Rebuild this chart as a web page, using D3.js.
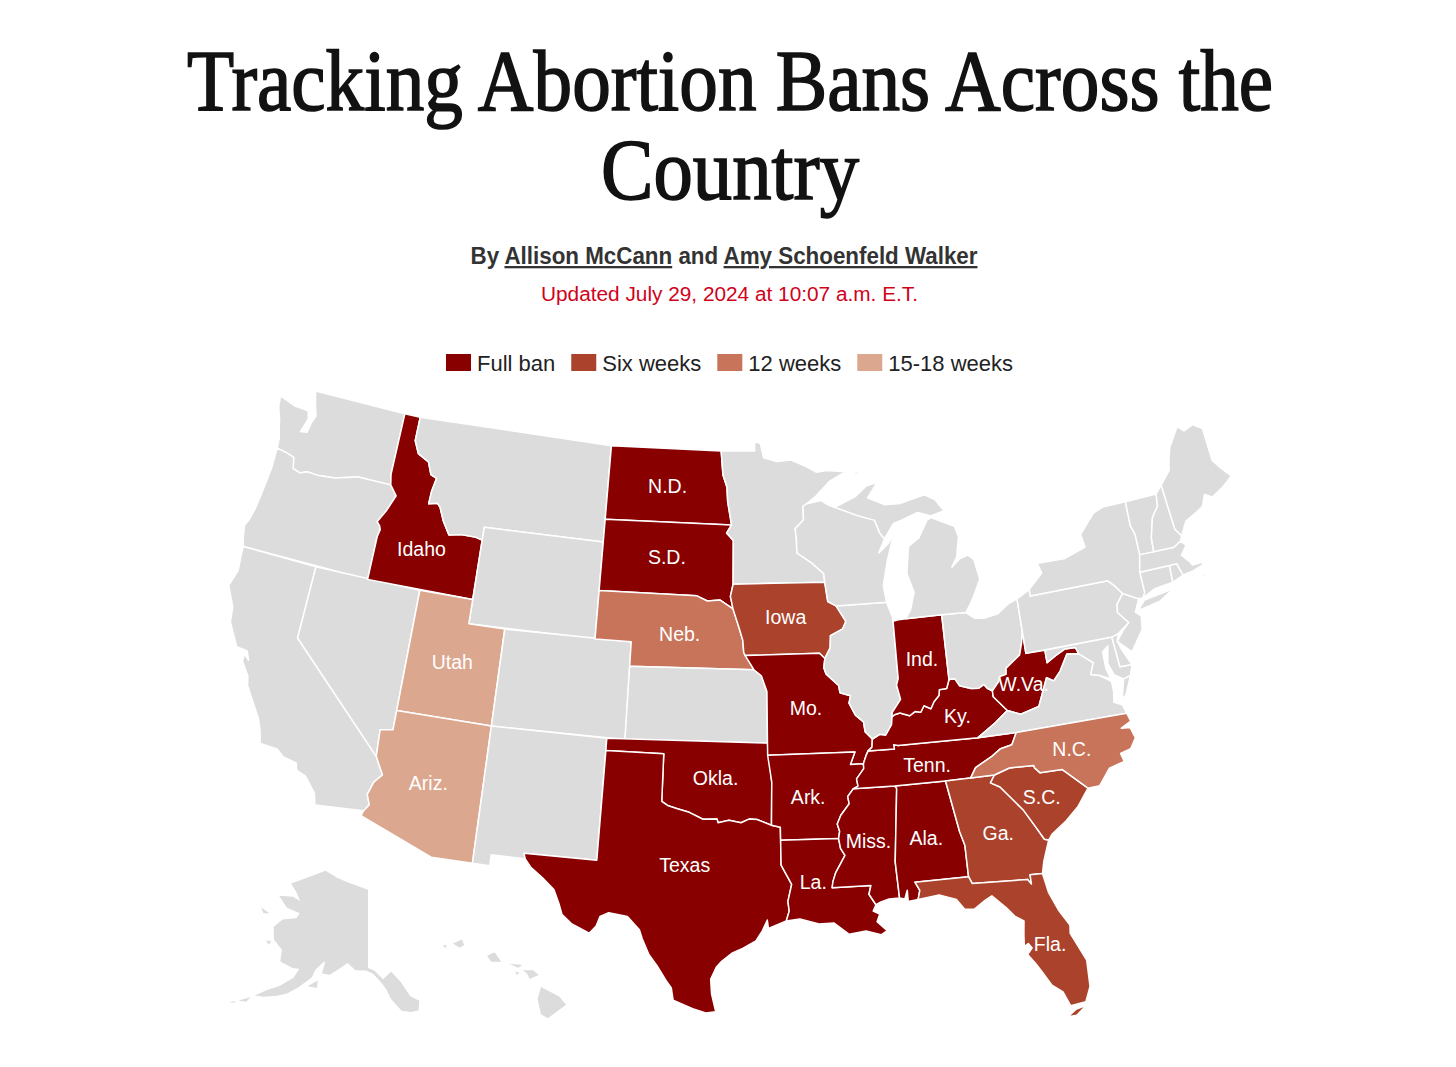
<![CDATA[<!DOCTYPE html>
<html>
<head>
<meta charset="utf-8">
<title>Tracking Abortion Bans Across the Country</title>
<script src="https://cdn.jsdelivr.net/npm/d3@7"></script>
<style type="text/css">
	html, body { margin: 0; background: #fff; overflow: hidden; }
	svg { display: block; }
	text { font-family: "Liberation Sans", sans-serif; }
	.title { font-family: "Liberation Serif", serif; font-size: 86px; fill: #121212; stroke: #121212; stroke-width: 1.6px; text-anchor: middle; }
	.state { stroke: #fff; stroke-width: 1.5px; stroke-linejoin: round; }
	.inset { stroke: none; }
	.label { fill: #fff; font-size: 19.5px; text-anchor: middle; dominant-baseline: central; }
</style>
</head>
<body><svg id="svg" width="1456" height="1067"></svg><script type="text/javascript">
var titleLines = ["Tracking Abortion Bans Across the", "Country"];
var updated = "Updated July 29, 2024 at 10:07 a.m. E.T.";
var categories = ["Full ban", "Six weeks", "12 weeks", "15-18 weeks"];
var categoryColors = ["#880000", "#ab432c", "#c8745a", "#dca78f"];
var noBanColor = "#dcdcdc";

// rivers shared by two states, flat lon,lat lists
var missIA = [-90.65,42.5,-90.15,41.85,-90.35,41.55,-91.05,41.3,-91.1,40.8,-91.42,40.38];
var missIL = [-91.42,40.38,-91.5,40,-91.4,39.75,-90.75,39.25,-90.7,38.95,-90.15,38.8,-90.25,38.5,-89.95,38,-89.55,37.7,-89.5,37.3,-89.15,36.98];
var missKY = [-89.15,36.98,-89.2,36.65,-89.42,36.5];
var missTN = [-89.42,36.5,-89.55,36.3,-89.7,36];
var missAT = [-89.7,36,-89.7,35.8,-90.1,35.4,-90.05,35.1,-90.3,35];
var missAM = [-90.3,35,-90.6,34.7,-90.55,34.4,-91,33.95,-91.2,33.6,-91.1,33.3,-91.17,33];
var missLM = [-91.17,33,-91.1,32.6,-90.9,32.3,-91.15,31.95,-91.4,31.6,-91.55,31.25,-91.6,31];
var ohioA = [-89.15,36.98,-88.75,37.15,-88.45,37.1,-88.1,37.5,-88.05,37.8];
var ohioB = [-88.05,37.8,-87.9,37.9,-87.6,37.95,-87.1,37.8,-86.8,37.95,-86.5,37.9,-86.3,38.15,-85.95,38,-85.75,38.27,-85.45,38.5,-85.4,38.73,-85,38.75,-84.82,39.1];
var ohioC = [-84.82,39.1,-84.5,39.1,-84.3,38.8,-83.7,38.63,-83.3,38.6,-83,38.72,-82.85,38.55,-82.6,38.42];
var ohioD = [-82.6,38.42,-82.2,38.75,-82.1,38.95,-81.75,39,-81.7,39.25,-80.87,39.7,-80.65,40.2,-80.52,40.64];
var redRiver = [-94.48,33.64,-95.2,33.88,-95.6,33.9,-96,33.75,-96.6,33.85,-97.15,33.75,-97.2,33.9,-97.9,33.88,-98.6,34.15,-99.2,34.28,-99.7,34.4,-100,34.56];

function rev(flat) {
	var out = [];
	for (var i = flat.length - 2; i >= 0; i -= 2) out.push(flat[i], flat[i + 1]);
	return out;
}

// outlines are lon,lat pairs, one flat list per ring
var WA = [[-124.73,48.38,-123.7,48.15,-122.85,48.12,-122.7,47.8,-122.95,47.2,-122.55,47.25,-122.45,47.7,-122.3,48,-122.5,48.4,-122.75,49,-117.03,49,-117.04,46.42,-116.92,45.995,-118.98,46,-119.3,45.93,-120.2,45.73,-121.2,45.65,-121.9,45.68,-122.3,45.55,-122.75,45.65,-122.9,46.1,-123.4,46.2,-124,46.27,-124.05,46.7,-124.2,47,-124.35,47.4,-124.65,47.95]];
var OR = [[-124,46.27,-123.4,46.2,-122.9,46.1,-122.75,45.65,-122.3,45.55,-121.9,45.68,-121.2,45.65,-120.2,45.73,-119.3,45.93,-118.98,46,-116.92,45.995,-116.47,45.6,-116.85,44.9,-117.22,44.4,-117.03,44.25,-116.95,44.1,-117.03,43.8,-117.03,42,-124.21,42,-124.35,42.3,-124.5,42.84,-124.35,43.1,-124.2,43.6,-124.1,44.3,-124.05,44.7,-123.97,45.5]];
var CA = [[-124.21,42,-120,42,-120,39,-114.63,35,-114.14,34.3,-114.5,33.95,-114.7,33.4,-114.5,33,-114.72,32.72,-117.12,32.53,-117.28,33,-117.9,33.6,-118.4,33.75,-118.5,34.03,-119.2,34.15,-119.6,34.4,-120.5,34.45,-120.65,34.9,-120.9,35.4,-121.9,36.6,-122,36.95,-122.5,37.5,-122.5,37.8,-122.2,37.6,-122.4,37.95,-123,38,-123.7,38.9,-123.8,39.5,-124.35,40.3,-124.1,41,-124.2,41.75]];
var NV = [[-120,42,-114.05,42,-114.05,36.2,-114.7,36.1,-114.63,35,-120,39]];
var ID = [[-117.03,49,-116.05,49,-116.05,48,-115.7,47.5,-115,47.25,-114.7,46.75,-114.33,46.65,-114.47,46.1,-114.5,45.56,-114,45.65,-113.8,45.5,-113.45,44.95,-113,44.45,-112.3,44.55,-111.5,44.55,-111.05,44.47,-111.05,42,-117.03,42,-117.03,43.8,-116.95,44.1,-117.03,44.25,-117.22,44.4,-116.85,44.9,-116.47,45.6,-116.92,45.995,-117.04,46.42]];
var MT = [[-116.05,49,-104.05,49,-104.05,45,-111.05,45,-111.05,44.47,-111.5,44.55,-112.3,44.55,-113,44.45,-113.45,44.95,-113.8,45.5,-114,45.65,-114.5,45.56,-114.47,46.1,-114.33,46.65,-114.7,46.75,-115,47.25,-115.7,47.5,-116.05,48]];
var WY = [[-111.05,45,-104.05,45,-104.05,41,-111.05,41]];
var UT = [[-114.05,42,-111.05,42,-111.05,41,-109.05,41,-109.05,37,-114.05,37]];
var CO = [[-109.05,41,-102.05,41,-102.05,37,-109.05,37]];
var AZ = [[-114.05,37,-109.05,37,-109.05,31.33,-111.07,31.33,-114.8,32.5,-114.72,32.72,-114.5,33,-114.7,33.4,-114.5,33.95,-114.14,34.3,-114.63,35,-114.7,36.1,-114.05,36.2]];
var NM = [[-109.05,37,-103,37,-103.05,32,-106.62,32,-106.53,31.78,-108.2,31.78,-108.2,31.33,-109.05,31.33]];
var ND = [[-104.05,49,-97.23,49,-97.1,48,-96.85,47.5,-96.8,46.9,-96.56,45.94,-104.05,45.94]];
var SD = [[-104.05,45.94,-96.56,45.94,-96.85,45.6,-96.45,45.3,-96.45,43.5,-96.6,43,-96.45,42.49,-97.2,42.85,-97.9,42.8,-98.5,43,-104.05,43]];
var NE = [[-104.05,43,-98.5,43,-97.9,42.8,-97.2,42.85,-96.45,42.49,-96.1,41.7,-95.9,41.2,-95.85,40.7,-95.3,40,-102.05,40,-102.05,41,-104.05,41]];
var KS = [[-102.05,40,-95.3,40,-94.9,39.75,-94.61,39.1,-94.62,37,-102.05,37]];
var OK = [[-103,37,-94.62,37,-94.43,35.4].concat(redRiver,[-100,36.5,-103,36.5])];
var TX = [[-103,36.5,-100,36.5].concat(rev(redRiver),[-94.04,33.55,-94.04,33.02,-94.04,32,-93.55,31.2,-93.75,30.5,-93.7,30.1,-93.85,29.7,-94.7,29.4,-94.75,29.75,-95,29.3,-95.3,28.9,-95.9,28.6,-96.4,28.4,-96.9,28.05,-97.15,27.8,-97.4,27.3,-97.35,26.7,-97.15,25.96,-97.6,25.9,-98.2,26.07,-99.1,26.4,-99.2,26.9,-99.45,27.2,-99.9,27.8,-100.3,28.25,-100.65,28.9,-100.8,29.25,-101.4,29.77,-102.3,29.88,-102.7,29.7,-102.85,29.3,-103.15,28.98,-104,29.3,-104.5,29.65,-104.7,30.1,-105,30.65,-105.6,31.08,-106.2,31.45,-106.53,31.78,-106.62,32,-103.05,32])];
var MN = [[-97.23,49,-95.15,49,-95.15,49.38,-94.8,49.32,-94.6,48.72,-93.8,48.55,-92.9,48.6,-92,48.3,-91.4,48.05,-90.75,48.1,-89.6,48,-90.6,47.65,-91.5,47.05,-92.1,46.75,-92.29,46.66,-92.29,46.1,-92.8,45.75,-92.75,45.3,-92.75,44.75,-91.9,44.3,-91.25,43.85,-91.22,43.5,-96.45,43.5,-96.45,45.3,-96.85,45.6,-96.56,45.94,-96.8,46.9,-96.85,47.5,-97.1,48]];
var IA = [[-96.45,43.5,-91.22,43.5,-91.1,42.7].concat(missIA,[-91.7,40.6,-95.77,40.58,-95.85,40.7,-95.9,41.2,-96.1,41.7,-96.45,42.49,-96.6,43])];
var MO = [[-95.77,40.58,-91.7,40.6].concat(missIL,missKY,missTN,[-90.37,36,-90.1,36.5,-94.62,36.5,-94.62,37,-94.61,39.1,-94.9,39.75,-95.3,40])];
var AR = [[-94.62,36.5,-90.1,36.5,-90.37,36].concat(missAT,missAM,[-94.04,33.02,-94.04,33.55,-94.48,33.64,-94.43,35.4])];
var LA = [[-94.04,33.02].concat(missLM,[-89.73,31,-89.85,30.65,-89.55,30.2,-89.7,29.95,-89.4,29.8,-89.55,29.5,-89.1,29.1,-89.4,28.95,-90.1,29.15,-90.9,29.05,-91.6,29.55,-92.3,29.53,-93.2,29.77,-93.85,29.7,-93.7,30.1,-93.75,30.5,-93.55,31.2,-94.04,32])];
var MS = [[-90.3,35,-88.2,35,-88.1,34.9,-88.47,31.9,-88.4,30.4,-88.9,30.4,-89.3,30.3,-89.55,30.2,-89.85,30.65,-89.73,31].concat(rev(missLM),rev(missAM))];
var AL = [[-88.2,35,-85.6,35,-85.18,32.87,-85,32.3,-85,31,-87.6,31,-87.4,30.65,-87.52,30.28,-88,30.23,-88,30.7,-88.15,30.35,-88.4,30.4,-88.47,31.9,-88.1,34.9]];
var TN = [[-90.3,35].concat(rev(missAT),rev(missTN),[-88.05,36.5,-88.07,36.68,-87.85,36.63,-83.68,36.6,-81.68,36.59,-82,36.12,-82.6,36.03,-83.1,35.77,-84,35.4,-84.32,35,-85.6,35,-88.2,35])];
var KY = [ohioA.concat(ohioB,ohioC,[-82.6,38.17,-81.97,37.53,-82.7,37.1,-83.68,36.6,-87.85,36.63,-88.07,36.68,-88.05,36.5],rev(missKY))];
var IL = [[-90.65,42.5,-87.8,42.5,-87.55,41.9,-87.53,41.7,-87.53,39.35,-87.65,39.1,-87.5,38.5,-88,38].concat(rev(ohioA),rev(missIL),rev(missIA))];
var IN = [[-87.53,41.7,-87.2,41.75,-86.82,41.76,-84.8,41.76].concat(rev(ohioB),[-88,38,-87.5,38.5,-87.65,39.1,-87.53,39.35])];
var OH = [[-84.8,41.76,-83.45,41.73,-83,41.45,-82.5,41.4,-81.7,41.5,-81,41.85,-80.52,41.98].concat(rev(ohioD),rev(ohioC))];
var WV = [ohioD.concat([-80.52,39.72,-79.48,39.72,-79.48,39.2,-78.9,39.45,-78.4,39.62,-77.83,39.6,-77.72,39.32,-78.35,39.4,-78.87,38.77,-79.3,38.42,-79.65,38.6,-80.3,37.5,-81.3,37.3,-81.97,37.53,-82.6,38.17])];
var VA = [[-83.68,36.6,-82.7,37.1,-81.97,37.53,-81.3,37.3,-80.3,37.5,-79.65,38.6,-79.3,38.42,-78.87,38.77,-78.35,39.4,-77.72,39.32,-77.05,38.85,-77.3,38.4,-76.9,38.3,-76.3,37.95,-76.3,37.55,-76.4,37.1,-76,36.93,-75.87,36.55,-81.68,36.59],[-75.95,37.15,-75.65,37.95,-75.25,38.03,-75.7,37.3]];
var MD = [[-79.48,39.72,-75.79,39.72,-75.7,38.46,-75.05,38.45,-75.25,38.03,-75.65,37.95,-76.1,38.2,-76.3,38.7,-76.1,39.4,-76.45,39.2,-76.45,38.5,-76.3,38.05,-76.9,38.3,-77.3,38.4,-77.05,38.85,-77.72,39.32,-77.83,39.6,-78.4,39.62,-78.9,39.45,-79.48,39.2]];
var DE = [[-75.79,39.72,-75.42,39.8,-75.55,39.5,-75.4,39.1,-75.05,38.45,-75.7,38.46]];
var PA = [[-80.52,41.98,-79.76,42.27,-79.76,42,-75.35,42,-75.05,41.75,-74.7,41.36,-75.13,40.98,-75.2,40.65,-74.72,40.15,-75.42,39.8,-75.79,39.72,-80.52,39.72]];
var NJ = [[-74.7,41.36,-73.9,41,-74.25,40.5,-73.98,40.3,-74.1,39.75,-74.9,38.95,-75.55,39.5,-75.1,39.9,-74.72,40.15,-75.2,40.65,-75.13,40.98]];
var NY = [[-79.76,42.27,-78.9,42.85,-79.05,43.27,-77.5,43.25,-76.2,43.55,-76.3,44.1,-75.3,44.85,-74.7,45,-73.35,45,-73.4,44,-73.25,43.6,-73.27,42.75,-73.5,42.05,-73.49,41.2,-73.65,41,-73.9,41,-74.7,41.36,-75.05,41.75,-75.35,42,-79.76,42],[-74,40.6,-73.6,40.9,-72.6,41,-71.9,41.07,-72.8,40.7,-73.9,40.55]];
var CT = [[-73.49,42.05,-71.8,42.02,-71.85,41.32,-72.9,41.25,-73.65,41,-73.49,41.2]];
var RI = [[-71.8,42.02,-71.38,42.02,-71.2,41.5,-71.85,41.32]];
var MA = [[-73.5,42.05,-73.27,42.75,-71.3,42.7,-70.85,42.87,-70.6,42.65,-71,42.3,-70.65,41.95,-70.55,41.8,-70,41.8,-70.2,42.07,-69.95,41.7,-70.65,41.55,-71.2,41.5,-71.38,42.02,-71.8,42.02],[-70.85,41.42,-70.5,41.42,-70.6,41.33],[-70.3,41.32,-69.95,41.32,-70.1,41.22]];
var VT = [[-73.35,45,-71.5,45,-71.6,44.5,-72.05,44.1,-72.4,43.3,-72.46,42.73,-73.27,42.75,-73.25,43.6,-73.4,44]];
var NH = [[-71.5,45,-71.08,45.3,-70.98,43.4,-70.7,43.07,-70.85,42.87,-71.3,42.7,-72.46,42.73,-72.4,43.3,-72.05,44.1,-71.6,44.5]];
var ME = [[-71.08,45.3,-70.4,45.8,-70.25,46.2,-70,46.7,-69.23,47.45,-68.9,47.2,-68.3,47.35,-67.8,47.07,-67.8,45.7,-67.45,45.3,-67,44.85,-67.6,44.55,-68,44.4,-68.4,44.25,-68.8,44.45,-69.1,44,-69.5,43.85,-69.8,43.75,-70.25,43.6,-70.55,43.25,-70.7,43.07,-70.98,43.4]];
var MI = [[-86.82,41.76,-86.5,42.1,-86.2,42.8,-86.5,43.6,-86.25,44.7,-85.6,45,-85,45.7,-84.75,45.78,-83.45,45.3,-83.3,44.85,-83.55,44.05,-83.9,43.65,-83.4,43.95,-82.9,44.05,-82.6,43.85,-82.42,43,-82.9,42.35,-83.15,42.05,-83.45,41.73,-84.8,41.76],[-90.4,46.55,-89.1,46.95,-88.4,47.35,-87.75,47.45,-88.4,46.85,-87.4,46.5,-86.5,46.5,-85,46.75,-84.4,46.5,-83.95,46,-84.75,45.85,-85.5,46.05,-86.5,45.8,-87,45.7,-87.6,45.1,-87.85,45.35,-88.1,45.9,-89.1,46.15],[-89.2,47.85,-88.5,48.15,-88.95,47.85]];
var WI = [[-92.29,46.66,-92.1,46.75,-91.2,46.87,-90.75,46.65,-90.4,46.55,-89.1,46.15,-88.1,45.9,-87.85,45.35,-87.6,45.1,-88,44.55,-87.4,44.9,-87.05,45.25,-87.55,44.2,-87.9,43.2,-87.8,42.5,-90.65,42.5,-91.1,42.7,-91.22,43.5,-91.25,43.85,-91.9,44.3,-92.75,44.75,-92.75,45.3,-92.8,45.75,-92.29,46.1]];
var GA = [[-85.6,35,-83.1,35,-83.35,34.7,-82.9,34.48,-81.9,33.4,-81.4,32.6,-81.1,32.1,-80.9,32.04,-81.3,31.2,-81.45,30.72,-82.05,30.75,-82.05,30.36,-82.2,30.57,-84.86,30.7,-85,31,-85,32.3,-85.18,32.87]];
var SC = [[-83.35,34.7,-83.1,35,-82.3,35.2,-81.05,35.15,-81.03,35.05,-80.8,34.82,-79.67,34.8,-78.55,33.86,-79.2,33.2,-79.9,32.7,-80.7,32.25,-80.9,32.04,-81.1,32.1,-81.4,32.6,-81.9,33.4,-82.9,34.48]];
var NC = [[-84.32,35,-84,35.4,-83.1,35.77,-82.6,36.03,-82,36.12,-81.68,36.59,-75.87,36.55,-75.75,36.2,-76.3,36,-75.85,35.95,-75.7,35.5,-76.05,35.1,-76.6,35,-76.5,34.65,-77.3,34.5,-77.95,33.87,-78.55,33.86,-79.67,34.8,-80.8,34.82,-81.03,35.05,-81.05,35.15,-82.3,35.2,-83.1,35]];
var FL = [[-87.52,30.28,-87.4,30.65,-87.6,31,-85,31,-84.86,30.7,-82.2,30.57,-82.05,30.36,-82.05,30.75,-81.45,30.72,-81.3,29.9,-80.95,29.1,-80.55,28.45,-80.6,28.1,-80.05,26.9,-80.1,25.8,-80.4,25.2,-81.1,25.13,-81.35,25.75,-81.8,26.1,-82.15,26.7,-82.4,27.1,-82.7,27.5,-82.45,27.75,-82.6,27.95,-82.8,27.85,-82.75,28.3,-82.65,28.9,-83.05,29.15,-83.4,29.55,-84,30.1,-84.35,29.95,-84.9,29.65,-85.35,29.68,-85.7,30.12,-86.5,30.38],[-80.4,25.05,-80.9,24.95,-81.3,24.7,-80.9,24.7]];
var AK = [[-141,69.65,-141,60.3,-139.5,60,-137.5,58.9,-135.5,59.75,-133.5,58.4,-131.8,56.6,-130,55.9,-130.5,54.8,-132,54.7,-134,55,-136,56.5,-137,57.8,-138.2,58.7,-139.8,59.6,-141.5,60,-144,60,-146,60.8,-148,60,-150,59.2,-151.8,59.2,-151.5,60.7,-149.5,61.3,-152,60.5,-153.5,59.5,-154,58.5,-156.5,57,-158.5,56,-160.5,55.4,-163,54.8,-164.8,54.6,-163,55.6,-160.5,56.6,-158,58,-157.2,59.2,-158.8,59.1,-162,59.4,-162.5,60.8,-165.2,61.6,-166.5,63,-165,64.2,-161.5,64.9,-161,65.6,-165,65.7,-168.5,66.7,-164.5,67.2,-162,67,-163.8,67.8,-166.5,68.6,-163,69.7,-156.6,71.35,-152,70.8,-148,70.4],[-154.5,57.4,-152.5,58.3,-152.4,57.4],[-171.7,64.5,-169,64.3,-170.5,64],[-167,61.2,-165.7,61.3,-166,60.8],[-165.5,54.2,-167.5,53.3,-166,53.5],[-169,52.7,-167.9,53.1,-168.2,52.8]];
var HI = [[-155.9,20.25,-155.1,19.85,-154.8,19.5,-155.6,18.95,-155.9,19.1,-156.05,19.75],[-156.7,20.95,-156.25,20.95,-156,20.75,-156.4,20.58,-156.5,20.8],[-158.28,21.55,-157.95,21.7,-157.65,21.3,-158.1,21.3],[-159.8,22.05,-159.4,22.23,-159.3,22,-159.5,21.88],[-157.3,21.22,-156.72,21.17,-156.9,21.05],[-157.05,20.9,-156.85,20.85,-156.95,20.75],[-160.25,21.95,-160.1,22,-160.1,21.85]];

var stateIds = ["WA","OR","CA","NV","ID","MT","WY","UT","CO","AZ","NM","ND","SD","NE","KS","OK","TX","MN","IA","MO","AR","LA","MS","AL","TN","KY","IL","IN","OH","WV","VA","MD","DE","PA","NJ","NY","CT","RI","MA","VT","NH","ME","MI","WI","GA","SC","NC","FL","AK","HI"];
var stateOutlines = [WA,OR,CA,NV,ID,MT,WY,UT,CO,AZ,NM,ND,SD,NE,KS,OK,TX,MN,IA,MO,AR,LA,MS,AL,TN,KY,IL,IN,OH,WV,VA,MD,DE,PA,NJ,NY,CT,RI,MA,VT,NH,ME,MI,WI,GA,SC,NC,FL,AK,HI];

var fullBan = ["ID","ND","SD","MO","OK","TX","AR","LA","MS","AL","TN","KY","IN","WV"];
var sixWeeks = ["IA","SC","GA","FL"];
var twelveWeeks = ["NE","NC"];
var fifteenWeeks = ["UT","AZ"];

var labelIds = ["ID","ND","SD","NE","IA","UT","AZ","MO","OK","TX","AR","LA","MS","AL","TN","KY","IN","WV","NC","SC","GA","FL"];
var labelTexts = ["Idaho","N.D.","S.D.","Neb.","Iowa","Utah","Ariz.","Mo.","Okla.","Texas","Ark.","La.","Miss.","Ala.","Tenn.","Ky.","Ind.","W.Va.","N.C.","S.C.","Ga.","Fla."];
var labelLons = [-114.4,-100.45,-100.3,-99.4,-93.5,-111.6,-111.8,-92.55,-97.3,-98.75,-92.6,-92.5,-89.7,-86.85,-86.45,-84.6,-86.15,-80.9,-79,-80.9,-83.3,-81.6];
var labelLats = [43.67,47.5,44.57,41.42,42.12,39.34,34.32,38.38,35.57,32,34.75,31.28,32.85,32.76,35.72,37.6,40.05,38.52,35.54,33.84,32.62,27.8];

var svg = d3.select("#svg");

var color = d3.scaleOrdinal().domain(categories).range(categoryColors);
function statusOf(id) {
	if (fullBan.indexOf(id) >= 0) return categories[0];
	if (sixWeeks.indexOf(id) >= 0) return categories[1];
	if (twelveWeeks.indexOf(id) >= 0) return categories[2];
	if (fifteenWeeks.indexOf(id) >= 0) return categories[3];
	return null;
}

var lower48 = d3.geoAlbers().parallels([29.5, 45.5]).rotate([96, 0]).center([0, 37.5]).scale(1390).translate([741, 731]);
var alaska = d3.geoConicEqualArea().parallels([55, 65]).rotate([141, 0]).center([0, 60.3]).scale(480).translate([368, 968]);
var hawaii = d3.geoConicEqualArea().parallels([8, 18]).rotate([157, 0]).center([0, 20]).scale(1380).translate([516, 993]);

function projectionOf(id) {
	if (id == "AK") return alaska;
	if (id == "HI") return hawaii;
	return lower48;
}

function toFeature(flat) {
	var ring = d3.pairs(flat).filter(function (d, i) { return i % 2 == 0; });
	ring.push(ring[0]);
	var poly = {type: "Polygon", coordinates: [ring]};
	if (d3.geoArea(poly) > 2 * Math.PI) ring.reverse();
	return poly;
}

function pathString(id, rings) {
	var path = d3.geoPath(projectionOf(id));
	return rings.map(function (r) { return path(toFeature(r)); }).join("");
}

// title
svg.selectAll(".title").data(titleLines).enter()
	.append("text")
	.attr("class", "title")
	.attr("x", 730)
	.attr("y", function (d, i) { return 110 + i * 89; })
	.attr("textLength", function (d, i) { return i == 0 ? 1086 : 258; })
	.attr("lengthAdjust", "spacingAndGlyphs")
	.text(function (d) { return d; });

// byline
var by = svg.append("text")
	.attr("x", 724).attr("y", 264)
	.attr("text-anchor", "middle")
	.attr("textLength", 507)
	.attr("lengthAdjust", "spacingAndGlyphs")
	.style("font-size", "23px").style("font-weight", "700").style("fill", "#333");
by.append("tspan").text("By ");
by.append("tspan").style("text-decoration", "underline").text("Allison McCann");
by.append("tspan").text(" and ");
by.append("tspan").style("text-decoration", "underline").text("Amy Schoenfeld Walker");

svg.append("text")
	.attr("x", 729.5).attr("y", 301)
	.attr("text-anchor", "middle")
	.attr("textLength", 377)
	.attr("lengthAdjust", "spacingAndGlyphs")
	.style("font-size", "20px").style("fill", "#d0021b")
	.text(updated);

// legend, laid out from measured text widths
var legend = svg.append("g").attr("class", "legend");
var item = legend.selectAll("g").data(categories).enter().append("g");
item.append("rect").attr("width", 25).attr("height", 17).attr("y", 354)
	.attr("fill", function (d) { return color(d); });
item.append("text").attr("x", 31).attr("y", 371)
	.style("font-size", "22px").style("fill", "#222")
	.text(function (d) { return d; });
var legendX = 0;
item.attr("transform", function () {
	var w = d3.select(this).select("text").node().getComputedTextLength();
	var t = "translate(" + legendX + ",0)";
	legendX += 31 + w + 16;
	return t;
});
legend.attr("transform", "translate(" + (729.5 - (legendX - 16) / 2) + ",0)");

// map
svg.append("g").selectAll("path").data(stateIds).enter()
	.append("path")
	.attr("class", function (d) { return d == "AK" || d == "HI" ? "state inset" : "state"; })
	.attr("d", function (d, i) { return pathString(d, stateOutlines[i]); })
	.attr("fill", function (d) { var s = statusOf(d); return s ? color(s) : noBanColor; });

svg.append("g").selectAll("text").data(labelTexts).enter()
	.append("text")
	.attr("class", "label")
	.attr("transform", function (d, i) {
		return "translate(" + projectionOf(labelIds[i])([labelLons[i], labelLats[i]]) + ")";
	})
	.text(function (d) { return d; });
</script></body>
</html>
]]>
